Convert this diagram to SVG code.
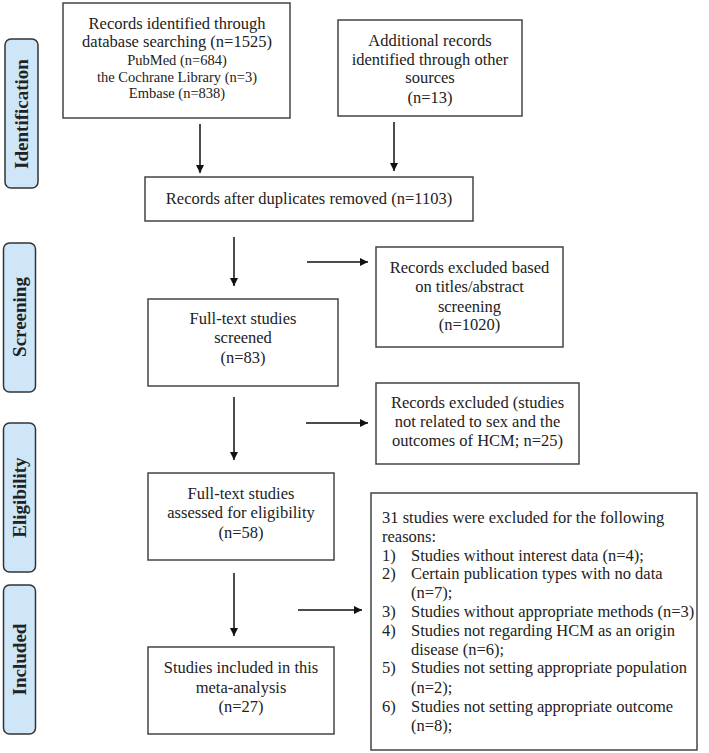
<svg xmlns="http://www.w3.org/2000/svg" width="709" height="753" viewBox="0 0 709 753">
<style>
.box{fill:#fff;stroke:#444;stroke-width:1.5}
.lab{fill:#cfe6f8;stroke:#333;stroke-width:1.5}
.t{font-family:"Liberation Serif","Times New Roman",serif;font-size:16.5px;fill:#222;text-anchor:middle}
.s{font-size:14.5px}
.l{text-anchor:start}
.side{font-family:"Liberation Serif","Times New Roman",serif;font-size:19px;font-weight:bold;fill:#222;text-anchor:middle}
.c{stroke:#111;stroke-width:1.5;fill:none;marker-end:url(#ah)}
</style>
<defs>
<marker id="ah" markerUnits="userSpaceOnUse" markerWidth="10" markerHeight="10" refX="8" refY="4" orient="auto">
<path d="M0,0 L8,4 L0,8 Z" fill="#111"/>
</marker>
</defs>
<rect width="709" height="753" fill="#fff"/>

<g id="label-identification">
<rect class="lab" x="5" y="39" width="33" height="149" rx="6"/>
<text class="side" transform="translate(27.5,114) rotate(-90)">Identification</text>
</g>
<g id="label-screening">
<rect class="lab" x="3.5" y="243" width="32" height="149" rx="6"/>
<text class="side" transform="translate(25.5,317) rotate(-90)">Screening</text>
</g>
<g id="label-eligibility">
<rect class="lab" x="3.5" y="423" width="32" height="149" rx="6"/>
<text class="side" transform="translate(25.5,497.5) rotate(-90)">Eligibility</text>
</g>
<g id="label-included">
<rect class="lab" x="3.5" y="585" width="32" height="149" rx="6"/>
<text class="side" transform="translate(25.5,659.5) rotate(-90)">Included</text>
</g>

<g id="connectors">
<line class="c" x1="200" y1="124" x2="200" y2="173"/>
<line class="c" x1="394" y1="122" x2="394" y2="171"/>
<line class="c" x1="234" y1="237" x2="234" y2="286"/>
<line class="c" x1="307" y1="262" x2="368" y2="262"/>
<line class="c" x1="234" y1="397" x2="234" y2="460"/>
<line class="c" x1="306" y1="423" x2="368" y2="423"/>
<line class="c" x1="234" y1="573" x2="234" y2="636"/>
<line class="c" x1="298" y1="610" x2="362" y2="610"/>
</g>

<g id="node-database">
<rect class="box" x="63" y="3" width="227" height="115"/>
<text class="t" x="177" y="29">Records identified through</text>
<text class="t" x="177" y="47">database searching (n=1525)</text>
<text class="t s" x="177" y="65">PubMed (n=684)</text>
<text class="t s" x="177" y="82">the Cochrane Library (n=3)</text>
<text class="t s" x="177" y="98">Embase (n=838)</text>
</g>

<g id="node-other">
<rect class="box" x="338" y="20" width="184" height="96"/>
<text class="t" x="430" y="46">Additional records</text>
<text class="t" x="430" y="65">identified through other</text>
<text class="t" x="430" y="83">sources</text>
<text class="t" x="430" y="103">(n=13)</text>
</g>

<g id="node-dedup">
<rect class="box" x="145" y="177" width="328" height="44"/>
<text class="t" x="309" y="204">Records after duplicates removed (n=1103)</text>
</g>

<g id="node-screened">
<rect class="box" x="148" y="299" width="190" height="87"/>
<text class="t" x="243" y="324">Full-text studies</text>
<text class="t" x="243" y="343">screened</text>
<text class="t" x="243" y="363">(n=83)</text>
</g>

<g id="node-excluded-titles">
<rect class="box" x="376" y="247" width="187" height="100"/>
<text class="t" x="469.5" y="273">Records excluded based</text>
<text class="t" x="469.5" y="292">on titles/abstract </text>
<text class="t" x="469.5" y="312">screening</text>
<text class="t" x="469.5" y="330">(n=1020)</text>
</g>

<g id="node-excluded-sex">
<rect class="box" x="376" y="383" width="203" height="81"/>
<text class="t" x="477.5" y="408">Records excluded (studies</text>
<text class="t" x="477.5" y="427">not related to sex and the</text>
<text class="t" x="477.5" y="446">outcomes of HCM; n=25)</text>
</g>

<g id="node-eligibility">
<rect class="box" x="148" y="473" width="186" height="87"/>
<text class="t" x="241" y="499">Full-text studies</text>
<text class="t" x="241" y="518">assessed for eligibility</text>
<text class="t" x="241" y="538">(n=58)</text>
</g>

<g id="node-included">
<rect class="box" x="148" y="647" width="186" height="87"/>
<text class="t" x="241" y="673">Studies included in this</text>
<text class="t" x="241" y="693">meta-analysis</text>
<text class="t" x="241" y="712">(n=27)</text>
</g>

<g id="node-excluded-reasons">
<rect class="box" x="371" y="493" width="326" height="257"/>
<text class="t l" x="382" y="523">31 studies were excluded for the following</text>
<text class="t l" x="382" y="542">reasons:</text>
<text class="t l" x="382" y="561">1)</text><text class="t l" x="411" y="561">Studies without interest data (n=4);</text>
<text class="t l" x="382" y="579">2)</text><text class="t l" x="411" y="579">Certain publication types with no data</text>
<text class="t l" x="411" y="598">(n=7);</text>
<text class="t l" x="382" y="617">3)</text><text class="t l" x="411" y="617">Studies without appropriate methods (n=3)</text>
<text class="t l" x="382" y="636">4)</text><text class="t l" x="411" y="636">Studies not regarding HCM as an origin</text>
<text class="t l" x="411" y="655">disease (n=6);</text>
<text class="t l" x="382" y="673">5)</text><text class="t l" x="411" y="673">Studies not setting appropriate population</text>
<text class="t l" x="411" y="693">(n=2);</text>
<text class="t l" x="382" y="712">6)</text><text class="t l" x="411" y="712">Studies not setting appropriate outcome</text>
<text class="t l" x="411" y="731">(n=8);</text>
</g>
</svg>
